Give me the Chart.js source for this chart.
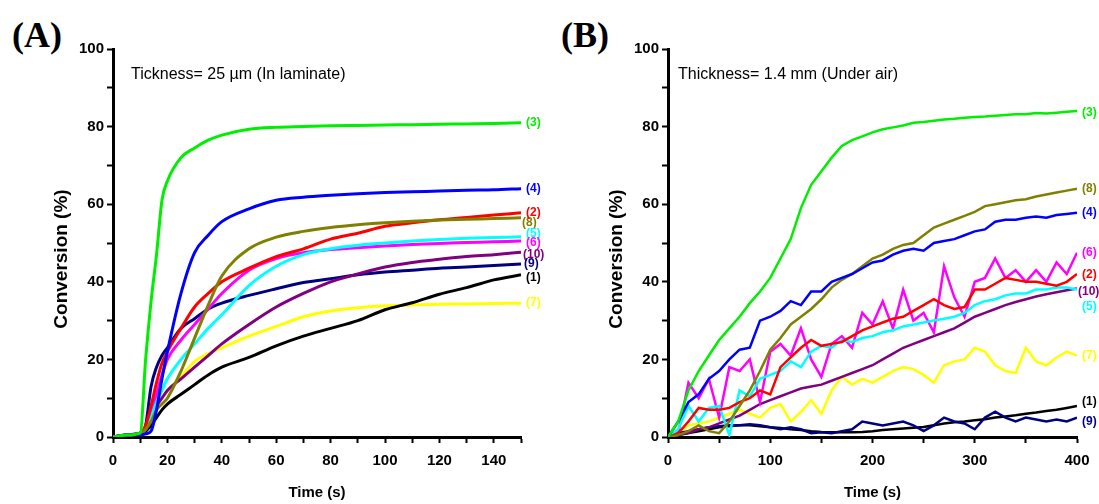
<!DOCTYPE html>
<html>
<head>
<meta charset="utf-8">
<script src="https://cdn.jsdelivr.net/npm/chart.js@4.4.1/dist/chart.umd.min.js"></script>
<style>
  body { margin: 0; background: #fff; width: 1099px; height: 504px; position: relative; overflow: hidden; }
  .panel { position: absolute; top: 0; }
  .tag { position: absolute; top: 17px; line-height: 1; font-family: 'Liberation Serif', 'Times New Roman', serif;
         font-weight: bold; font-size: 36px; }
</style>
</head>
<body>
<div class="tag" style="left:12px">(A)</div>
<div class="tag" style="left:561px">(B)</div>
<canvas id="chartA" class="panel" width="549" height="504" style="left:0"></canvas>
<canvas id="chartB" class="panel" width="550" height="504" style="left:549px"></canvas>
<script>
// Panel A : 25 µm, in laminate (time in s, conversion in %)
const timeA = [0, 5, 10, 12, 14, 16, 18, 20, 25, 30, 35, 40, 50, 60, 70, 80, 90, 100, 110, 120, 130, 140, 150];
const a1  = [0, 0.5, 1, 1.5, 3, 5, 7, 8.5, 11, 13.5, 16, 18, 20.5, 23.5, 26, 28, 30, 32.8, 34.6, 36.8, 38.5, 40.5, 41.8];
const a2  = [0, 0.5, 1, 3, 8, 14, 19, 22, 28, 33.5, 37, 40, 43.5, 46.5, 48.5, 51, 52.5, 54.3, 55.2, 56, 56.6, 57.2, 57.8];
const a3  = [0, 0.5, 1, 20, 35, 47, 61, 66, 72, 74.5, 76.5, 77.8, 79.3, 79.8, 80, 80.2, 80.3, 80.4, 80.5, 80.6, 80.7, 80.8, 81];
const a4  = [0, 0.5, 0.5, 0.8, 1.5, 7, 15, 22, 37, 47.5, 52, 55.5, 58.8, 61, 61.8, 62.3, 62.7, 63, 63.2, 63.4, 63.6, 63.7, 64];
const a5  = [0, 0.5, 1, 2, 5, 9, 12, 15, 20, 24, 28, 31.5, 39, 44, 47, 48.5, 49.4, 50, 50.5, 50.9, 51.2, 51.4, 51.6];
const a6  = [0, 0.5, 1, 2, 6, 11, 16, 20, 25, 29, 33, 37, 43, 46, 47.5, 48.3, 48.8, 49.2, 49.6, 49.9, 50.1, 50.3, 50.5];
const a7  = [0, 0.5, 1, 2, 5, 8, 10, 12, 15.5, 19.5, 21.5, 23, 26, 28.5, 31, 32.5, 33.3, 33.8, 34, 34.2, 34.3, 34.4, 34.5];
const a8  = [0, 0.5, 1, 2, 4, 7, 8.5, 10, 17, 25.5, 34, 41.5, 48.5, 51.5, 53, 54, 54.7, 55.2, 55.6, 55.9, 56.1, 56.3, 56.5];
const a9  = [0, 0.5, 1, 3, 13, 18, 21, 23, 28, 30.5, 33, 34.5, 36.5, 38.2, 39.8, 40.8, 41.8, 42.5, 43, 43.5, 43.8, 44.2, 44.6];
const a10 = [0, 0.5, 1, 2, 5, 8, 10, 12, 15, 18, 21, 24, 29, 33.5, 37, 40, 42, 43.8, 45, 45.8, 46.5, 47, 47.6];

// Panel B : 1.4 mm, under air
const timeB = [0, 10, 20, 30, 40, 50, 60, 70, 80, 90, 100, 110, 120, 130, 140, 150, 160, 170, 180, 190, 200,
               210, 220, 230, 240, 250, 260, 270, 280, 290, 300, 310, 320, 330, 340, 350, 360, 370, 380, 390, 400];
const b1  = [0, 0.5, 1, 1.5, 2, 2.5, 2.8, 3, 3, 2.8, 2.5, 2.3, 2, 1.8, 1.5, 1.3, 1.2, 1.2, 1.2, 1.3, 1.5,
             1.8, 2, 2.2, 2.4, 2.6, 3, 3.5, 3.8, 4, 4.3, 4.6, 5, 5.3, 5.6, 6, 6.3, 6.7, 7, 7.5, 8];
const b2  = [0, 1, 4, 7.5, 7, 7, 7.5, 9, 10, 12, 11, 18, 20.5, 23, 25, 23.5, 24, 24.5, 26, 27.5, 28.5,
             29.5, 30.5, 31, 32.5, 34, 35.5, 34, 33, 33.5, 38, 38, 39.5, 41, 40.5, 40, 40, 39.5, 39, 40, 42];
const b3  = [0, 4, 12, 17, 21, 25, 28, 31, 34.5, 37.5, 41, 46, 51, 59, 65, 68.5, 72, 75, 76.5, 77.5, 78.5,
             79.3, 79.8, 80.3, 81, 81.2, 81.5, 81.8, 82, 82.3, 82.5, 82.6, 82.8, 83, 83.2, 83.2, 83.5, 83.4, 83.6, 83.8, 84];
const b4  = [0, 4, 9, 11, 15, 17, 20, 22.5, 23, 30, 31, 32.5, 35, 34, 37.5, 37.5, 40, 41, 42, 43.5, 45,
             45.5, 47, 48, 48.5, 48, 50, 50.5, 51, 52, 53, 53.5, 55.5, 56, 56, 56.5, 56.8, 56.5, 57.2, 57.5, 57.8];
const b5  = [0, 2, 8, 4, 7.5, 8, 0.5, 12, 10.5, 15, 16, 17, 19.5, 18, 22, 23.5, 23, 25, 24.5, 25.5, 26,
             27, 27.5, 28.5, 29, 29.5, 30, 30.5, 31, 32, 34, 35, 35.5, 36.5, 37, 37, 38, 38, 38.5, 38.5, 38];
const b6  = [0, 1, 14, 10, 15, 5, 18, 17, 20, 9, 22, 24, 21, 28, 20, 15.5, 24, 26, 23, 32, 29,
             35, 28, 38, 30, 32, 27, 44, 36, 31, 40, 41, 46, 41, 43, 40, 43, 40, 45, 42, 47.5];
const b7  = [0, 1, 3, 3.5, 4, 5, 6, 7, 6, 5, 7.5, 8.5, 4, 6.5, 9.5, 6, 12, 15.5, 13.5, 15, 14,
             15.5, 17, 18, 17.5, 16, 14, 18.5, 19.5, 20, 23, 22, 18.5, 17, 16.5, 23, 19.5, 18.5, 20.5, 22, 21];
const b8  = [0, 0.5, 1.5, 3, 1.5, 1, 4, 8, 12, 17, 22.5, 25.5, 29, 31, 33, 35.5, 38.5, 40.5, 42, 44, 46,
             47, 48.5, 49.5, 50, 52, 54, 55, 56, 57, 58, 59.5, 60, 60.5, 61, 61.3, 62, 62.5, 63, 63.5, 64];
const b9  = [0, 1, 1.5, 2, 2.5, 2.8, 3, 3, 3.3, 3, 2.5, 2, 2.5, 2, 1, 1.2, 1, 1.5, 2, 4, 3.5,
             3, 3.5, 4, 3, 1.5, 3, 5, 4, 3.5, 2, 5, 6.5, 5, 4, 5, 4.5, 4, 4.5, 4, 5];
const b10 = [0, 0.5, 1, 2, 2.5, 3.5, 4.5, 5.5, 7, 8.5, 9.5, 10.5, 11.5, 12.5, 13, 13.5, 14.5, 15.5, 16.5, 17.5, 18.5,
             20, 21.5, 23, 24, 25, 26, 27, 28, 29.5, 31, 32, 33, 34, 34.8, 35.5, 36.2, 36.8, 37.3, 37.8, 38.3];

// couleurs des courbes (1) .. (10)
const colors = ['#000000', '#ff0000', '#00ee00', '#0000ff', '#00ffff', '#ff00ff', '#ffff00', '#808000', '#000080', '#800080'];

const sans = '"Liberation Sans", Arial, sans-serif';

// draws the (n) labels at the end of each curve, the condition note and the y title
const endLabels = {
  id: 'endLabels',
  afterDatasetsDraw(chart, args, o) {
    const ctx = chart.ctx;
    ctx.save();
    ctx.font = 'bold 12px ' + sans;
    ctx.textBaseline = 'middle';
    chart.data.datasets.forEach((ds, i) => {
      const pts = chart.getDatasetMeta(i).data;
      const last = pts[pts.length - 1];
      ctx.fillStyle = ds.borderColor;
      ctx.fillText(ds.label, last.x + 5 + (ds.dx || 0), last.y + (ds.dy || 0));
    });
    ctx.font = '16px ' + sans;
    ctx.fillStyle = '#000';
    ctx.fillText(o.note, chart.chartArea.left + o.noteX, chart.chartArea.top + 26);

    // axis title on the left, a bit lower than the centre of the axis
    ctx.translate(o.titleX, 259);
    ctx.rotate(-Math.PI / 2);
    ctx.textAlign = 'center';
    ctx.font = 'bold 19px ' + sans;
    ctx.fillText('Conversion (%)', 0, 0);
    ctx.restore();
  }
};

function buildChart(id, time, series, opt) {
  const datasets = series.map((s, i) => ({
    label: '(' + (i + 1) + ')',
    data: s.map((v, k) => ({ x: time[k], y: v })),
    borderColor: colors[i],
    borderWidth: opt.lineWidth,
    pointRadius: 0,
    fill: false,
    cubicInterpolationMode: opt.smooth ? 'monotone' : 'default',
    dx: opt.nudge[i][0],
    dy: opt.nudge[i][1]
  }));
  // draw order: keep (3) green and (4) blue on top
  const order = [2, 3, 7, 1, 4, 5, 9, 8, 0, 6];
  const sorted = order.map(i => datasets[i]);

  const axisCommon = {
    type: 'linear',
    min: 0,
    border: { display: true, color: '#000', width: 3 },
    grid: { display: true, drawOnChartArea: false, drawTicks: true, tickLength: 6, tickWidth: 2, tickColor: '#000' }
  };

  return new Chart(document.getElementById(id), {
    type: 'line',
    data: { datasets: sorted },
    options: {
      responsive: false,
      animation: false,
      devicePixelRatio: 1,
      layout: { padding: { top: 49, right: opt.padRight, left: 0, bottom: 0 } },
      plugins: { legend: { display: false }, tooltip: { enabled: false },
                 endLabels: { note: opt.note, noteX: opt.noteX, titleX: opt.titleX } },
      scales: {
        x: Object.assign({}, axisCommon, {
          max: opt.xMax,
          ticks: { stepSize: opt.xStep, autoSkip: false, maxRotation: 0, color: '#000', padding: 9,
                   font: { family: sans, size: 15, weight: 'bold' },
                   callback: v => (v % opt.xLabelStep === 0 ? v : '') },
          title: { display: true, text: 'Time (s)', color: '#000', padding: { top: 0, bottom: 2 },
                   font: { family: sans, size: 15, weight: 'bold' } },
          afterFit: s => { s.height = 67; }
        }),
        y: Object.assign({}, axisCommon, {
          max: 100,
          ticks: { stepSize: 10, autoSkip: false, color: '#000', padding: 3,
                   font: { family: sans, size: 15, weight: 'bold' },
                   callback: v => (v % 20 === 0 ? v : '') },
          afterFit: s => { s.width = opt.yWidth; }
        })
      }
    },
    plugins: [endLabels]
  });
}

buildChart('chartA', timeA, [a1, a2, a3, a4, a5, a6, a7, a8, a9, a10], {
  xMax: 150, xStep: 10, xLabelStep: 20, lineWidth: 3, smooth: true,
  padRight: 28, yWidth: 113, titleX: 62, noteX: 18,
  note: 'Tickness= 25 µm (In laminate)',
  nudge: [[0, 3], [0, 0], [0, 0], [0, 0], [0, -3], [0, 2], [0, 0], [-4, 5], [-2, 0], [-3, 2]]
});

buildChart('chartB', timeB, [b1, b2, b3, b4, b5, b6, b7, b8, b9, b10], {
  xMax: 400, xStep: 50, xLabelStep: 100, lineWidth: 2.5, smooth: false,
  padRight: 22, yWidth: 119, titleX: 68, noteX: 10,
  note: 'Thickness= 1.4 mm (Under air)',
  nudge: [[0, -4], [0, 1], [0, 2], [0, 0], [0, 17], [0, 0], [0, 0], [0, 0], [0, 4], [-4, 3]]
});
</script>
</body>
</html>
